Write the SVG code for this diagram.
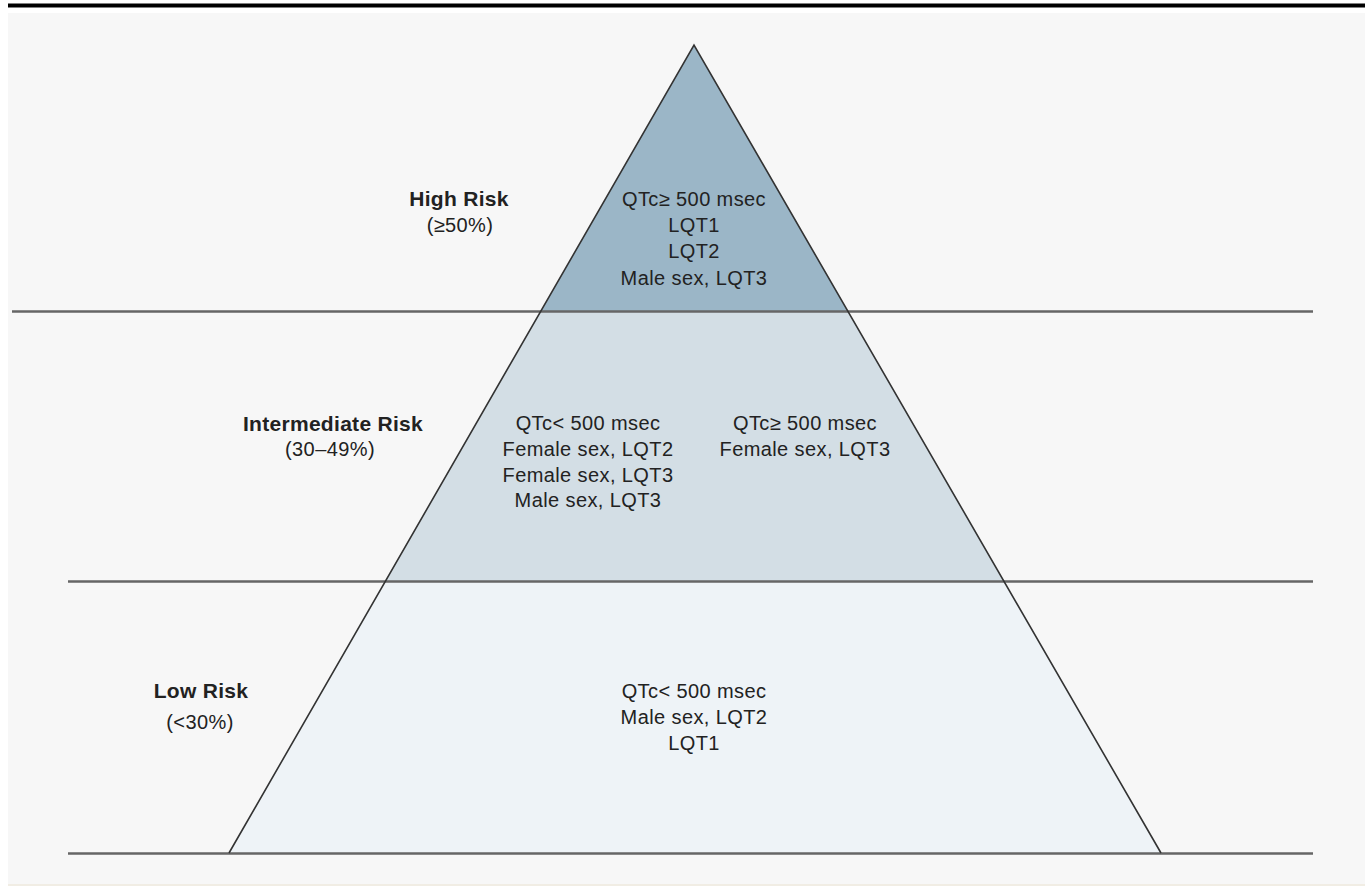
<svg xmlns="http://www.w3.org/2000/svg" width="1365" height="886" viewBox="0 0 1365 886">
<style>
  text { font-family: "Liberation Sans", Arial, sans-serif; font-size: 20px; fill: #222; text-anchor: middle; letter-spacing: 0.4px; }
  .title { font-weight: bold; font-size: 21px; letter-spacing: 0.3px; }
  .edge { stroke: #333; stroke-width: 1.6; fill: none; }
  .hline { stroke: #666; stroke-width: 2.6; }
</style>
<rect x="0" y="0" width="1365" height="886" fill="#ffffff"/>
<rect x="8" y="3.5" width="1357" height="4" fill="#000"/>
<rect x="8" y="13" width="1357" height="871" fill="#f7f7f7"/>
<rect x="8" y="884" width="1357" height="2" fill="#f1ede4"/>
<g id="tier-high">
  <polygon points="694,45 541,311 848,311" fill="#9bb6c7"/>
  <text x="694" y="206">QTc≥ 500 msec</text>
  <text x="694" y="232">LQT1</text>
  <text x="694" y="258">LQT2</text>
  <text x="694" y="285">Male sex, LQT3</text>
</g>
<g id="tier-intermediate">
  <polygon points="541,311 848,311 1004,581 385,581" fill="#d3dee5"/>
  <text x="588" y="430">QTc&lt; 500 msec</text>
  <text x="588" y="456">Female sex, LQT2</text>
  <text x="588" y="482">Female sex, LQT3</text>
  <text x="588" y="507">Male sex, LQT3</text>
  <text x="805" y="430">QTc≥ 500 msec</text>
  <text x="805" y="456">Female sex, LQT3</text>
</g>
<g id="tier-low">
  <polygon points="385,581 1004,581 1161,853 229,853" fill="#eef3f7"/>
  <text x="694" y="698">QTc&lt; 500 msec</text>
  <text x="694" y="724">Male sex, LQT2</text>
  <text x="694" y="750">LQT1</text>
</g>
<g id="label-high">
  <text class="title" x="459" y="206">High Risk</text>
  <text x="460" y="232">(≥50%)</text>
</g>
<g id="label-intermediate">
  <text class="title" x="333" y="431">Intermediate Risk</text>
  <text x="330" y="456">(30–49%)</text>
</g>
<g id="label-low">
  <text class="title" x="201" y="698">Low Risk</text>
  <text x="200" y="729">(&lt;30%)</text>
</g>
<g id="connectors">
  <line class="hline" x1="12" y1="311.5" x2="1313" y2="311.5"/>
  <line class="hline" x1="68" y1="581.5" x2="1313" y2="581.5"/>
  <line class="hline" x1="68" y1="853.5" x2="1313" y2="853.5"/>
  <polyline class="edge" points="229,853 694,45 1161,853"/>
</g>
</svg>
